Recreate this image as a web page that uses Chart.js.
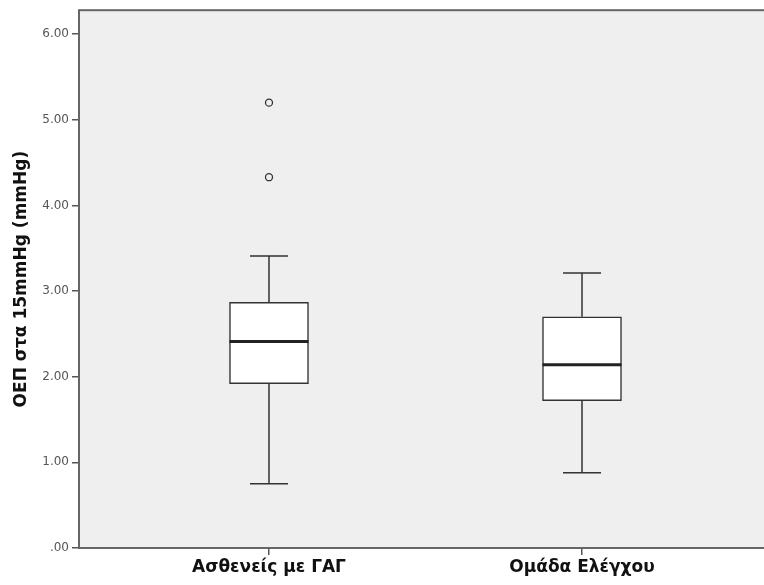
<!DOCTYPE html>
<html>
<head>
<meta charset="utf-8">
<script src="https://cdn.jsdelivr.net/npm/chart.js@4.4.1/dist/chart.umd.min.js"></script>
<style>
    html, body { margin: 0; padding: 0; background: #fff; overflow: hidden; }
    #wrap { width: 780px; height: 585px; }
</style>
</head>
<body>
<div id="wrap"><canvas id="boxChart" width="780" height="585"></canvas></div>
<script>
// ===== DATA =====
const categories = ['Ασθενείς με ΓΑΓ', 'Ομάδα Ελέγχου'];
const xPositions = [1, 2];
const whiskerLow = [0.75, 0.88];
const q1 = [1.92, 1.72];
const median = [2.41, 2.14];
const q3 = [2.87, 2.70];
const whiskerHigh = [3.41, 3.21];
const outliers = [[5.20, 4.33], []];
const yTicks = [0, 1, 2, 3, 4, 5, 6];

const LINE = '#333';

// plot background + frame (SPSS style)
const plotFrame = {
    id: 'plotFrame',
    beforeDatasetsDraw(chart) {
        const { ctx, chartArea: a } = chart;
        ctx.save();
        ctx.fillStyle = '#efefef';
        ctx.fillRect(a.left, a.top, a.right - a.left, a.bottom - a.top);
        ctx.restore();
    },
    afterDraw(chart) {
        const { ctx, chartArea: a } = chart;
        ctx.save();
        ctx.strokeStyle = '#666';
        ctx.lineWidth = 2;
        ctx.strokeRect(a.left, a.top, a.right - a.left, a.bottom - a.top);
        ctx.restore();
    }
};

// whiskers, caps and medians drawn through the scales
const boxWhiskers = {
    id: 'boxWhiskers',
    afterDatasetsDraw(chart) {
        const { ctx } = chart;
        const xs = chart.scales.x, ys = chart.scales.y;
        const boxHalf = 39.5, capHalf = 19;
        ctx.save();
        xPositions.forEach((xv, i) => {
            const x = xs.getPixelForValue(xv);
            const yLo = ys.getPixelForValue(whiskerLow[i]);
            const yQ1 = ys.getPixelForValue(q1[i]);
            const yQ3 = ys.getPixelForValue(q3[i]);
            const yHi = ys.getPixelForValue(whiskerHigh[i]);
            const yMed = ys.getPixelForValue(median[i]);

            ctx.strokeStyle = LINE;
            ctx.lineWidth = 1.5;
            ctx.beginPath();
            ctx.moveTo(x, yQ1); ctx.lineTo(x, yLo);
            ctx.moveTo(x, yQ3); ctx.lineTo(x, yHi);
            ctx.moveTo(x - capHalf, yLo); ctx.lineTo(x + capHalf, yLo);
            ctx.moveTo(x - capHalf, yHi); ctx.lineTo(x + capHalf, yHi);
            ctx.stroke();

            ctx.lineWidth = 3;
            ctx.strokeStyle = '#222';
            ctx.beginPath();
            ctx.moveTo(x - boxHalf, yMed); ctx.lineTo(x + boxHalf, yMed);
            ctx.stroke();
        });
        ctx.restore();
    }
};

const outlierPoints = [];
outliers.forEach((list, i) => list.forEach(v => outlierPoints.push({ x: xPositions[i], y: v })));

new Chart(document.getElementById('boxChart').getContext('2d'), {
    type: 'bar',
    data: {
        datasets: [{
            type: 'bar',
            data: xPositions.map((x, i) => ({ x: x, y: [q1[i], q3[i]] })),
            backgroundColor: '#ffffff',
            borderColor: LINE,
            borderWidth: 1.5,
            borderSkipped: false,
            barThickness: 79
        }, {
            type: 'scatter',
            data: outlierPoints,
            pointStyle: 'circle',
            pointRadius: 3.5,
            backgroundColor: 'rgba(0,0,0,0)',
            borderColor: LINE,
            borderWidth: 1.3
        }]
    },
    options: {
        responsive: false,
        animation: false,
        events: [],
        layout: { padding: { top: 10, right: 8, left: 0, bottom: 0 } },
        plugins: {
            legend: { display: false },
            tooltip: { enabled: false }
        },
        scales: {
            x: {
                type: 'linear',
                min: 0.393,
                max: 2.607,
                offset: false,
                border: { display: false },
                grid: { offset: false, drawOnChartArea: false, drawTicks: true, tickLength: 7, color: '#555', lineWidth: 1.5 },
                afterBuildTicks: axis => { axis.ticks = xPositions.map(v => ({ value: v })); },
                afterFit: axis => { axis.height = 37; },
                ticks: {
                    autoSkip: false,
                    maxRotation: 0,
                    padding: 2,
                    color: '#111',
                    font: { family: 'DejaVu Sans', size: 17, weight: 'bold' },
                    callback: v => categories[xPositions.indexOf(v)]
                }
            },
            y: {
                min: 0,
                max: 6.28,
                border: { display: false },
                grid: { drawOnChartArea: false, drawTicks: true, tickLength: 7, color: '#555', lineWidth: 1.5 },
                afterBuildTicks: axis => { axis.ticks = yTicks.map(v => ({ value: v })); },
                afterFit: axis => { axis.width = 79; },
                title: {
                    display: true,
                    text: 'ΟΕΠ στα 15mmHg (mmHg)',
                    color: '#111',
                    font: { family: 'DejaVu Sans', size: 17, weight: 'bold' },
                    padding: { top: 11, bottom: 0 }
                },
                ticks: {
                    padding: 3,
                    color: '#555',
                    font: { family: 'DejaVu Sans', size: 12 },
                    callback: v => v === 0 ? '.00' : v.toFixed(2)
                }
            }
        }
    },
    plugins: [plotFrame, boxWhiskers]
});
</script>
</body>
</html>
